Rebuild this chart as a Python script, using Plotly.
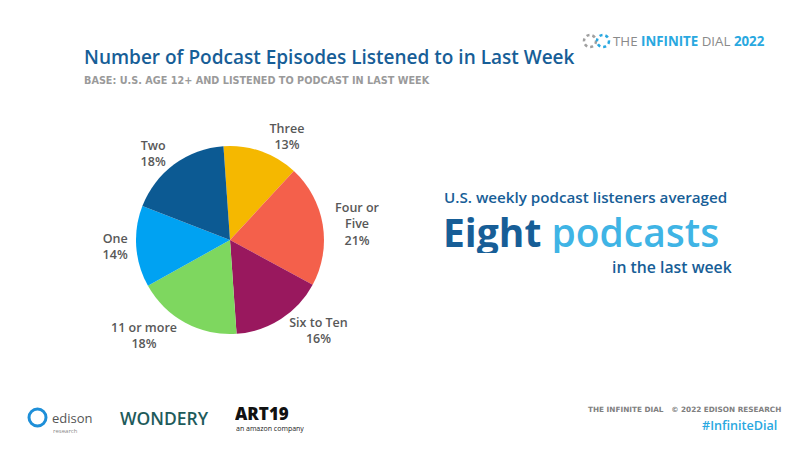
import plotly.graph_objects as go

categories = ["Three", "Four or<br>Five", "Six to Ten", "11 or more", "One", "Two"]
shares = [13, 21, 16, 18, 14, 18]
colors = ["#F5B800", "#F4604B", "#99185E", "#7ED75F", "#00A2F2", "#0C5A93"]

W, H = 800, 450
FONT = "Open Sans"
DARK = "#175E97"
LIGHT = "#3FB4E5"

fig = go.Figure()
fig.add_trace(go.Pie(
    labels=categories,
    values=shares,
    sort=False,
    direction="clockwise",
    rotation=-4,
    marker=dict(colors=colors, line=dict(width=0)),
    textposition="outside",
    texttemplate="%{label}<br>%{value}%",
    textfont=dict(family=FONT, size=12.5, color="#585858", weight=600),
    domain=dict(x=[(230 - 94) / W, (230 + 94) / W], y=[1 - (240 + 94) / H, 1 - (240 - 94) / H]),
    showlegend=False,
    hoverinfo="label+percent",
))

def px(x):
    return x / W

def py(y):
    return 1 - y / H

ann = []
def text(x, y, s, size, color, xanchor="left", family=FONT, weight=400, height=None):
    a = dict(x=px(x), y=py(y), xref="paper", yref="paper", text=s, showarrow=False,
             xanchor=xanchor, yanchor="middle",
             font=dict(family=family, size=size, color=color, weight=weight))
    if height:
        a["height"] = height
    ann.append(a)

BLUE = "#29A8E0"
text(82, 57, "Number of Podcast Episodes Listened to in Last Week", 19.0, DARK, weight=600)
text(82, 81, "BASE: U.S. AGE 12+ AND LISTENED TO PODCAST IN LAST WEEK", 9.7, "#9A9A9A",
     family="DejaVu Sans", weight=700)
text(767, 41, "THE <span style='color:%s'><b>INFINITE</b></span> DIAL <span style='color:%s'><b>2022</b></span>" % (BLUE, BLUE),
     13.3, "#8A8A8A", xanchor="right")
text(729, 197, "U.S. weekly podcast listeners averaged", 15.2, DARK, xanchor="right", weight=600, height=20)
text(441, 231, "<b>Eight</b> <span style='color:%s;font-weight:600'>podcasts</span>" % LIGHT, 39, DARK,
     weight=700, height=44)
text(734, 267, "in the last week", 15.8, DARK, xanchor="right", weight=600, height=16)
text(783, 409, "THE INFINITE DIAL   © 2022 EDISON RESEARCH", 7.3, "#808080", xanchor="right",
     family="DejaVu Sans", weight=700)
text(779, 425, "#InfiniteDial", 12.6, BLUE, xanchor="right", weight=600)
text(118, 418, "WONDERY", 17.5, "#1E5B5B", weight=600)
text(233, 413, "ART19", 17, "#111111", weight=800, height=16)
text(234, 428, "an amazon company", 7, "#222222", height=9)
text(50, 418, "edison", 13, "#555555", height=14)
text(51, 430, "research", 6, "#888888", height=7)

shapes = [
    dict(type="circle", xref="paper", yref="paper", x0=px(584), x1=px(596), y0=py(47), y1=py(35),
         line=dict(color="#A0A0A0", width=2.5, dash="dot")),
    dict(type="circle", xref="paper", yref="paper", x0=px(597), x1=px(609), y0=py(47), y1=py(35),
         line=dict(color=BLUE, width=2.5, dash="dot")),
    dict(type="circle", xref="paper", yref="paper", x0=px(29), x1=px(46), y0=py(426), y1=py(409),
         line=dict(color="#1E8FD8", width=3)),
]

fig.update_layout(
    width=W, height=H,
    margin=dict(l=0, r=0, t=0, b=0),
    paper_bgcolor="white", plot_bgcolor="white",
    annotations=ann, shapes=shapes,
)
fig.write_html("out.html", config={"displayModeBar": False},
               post_script="document.body.style.margin='0';")
